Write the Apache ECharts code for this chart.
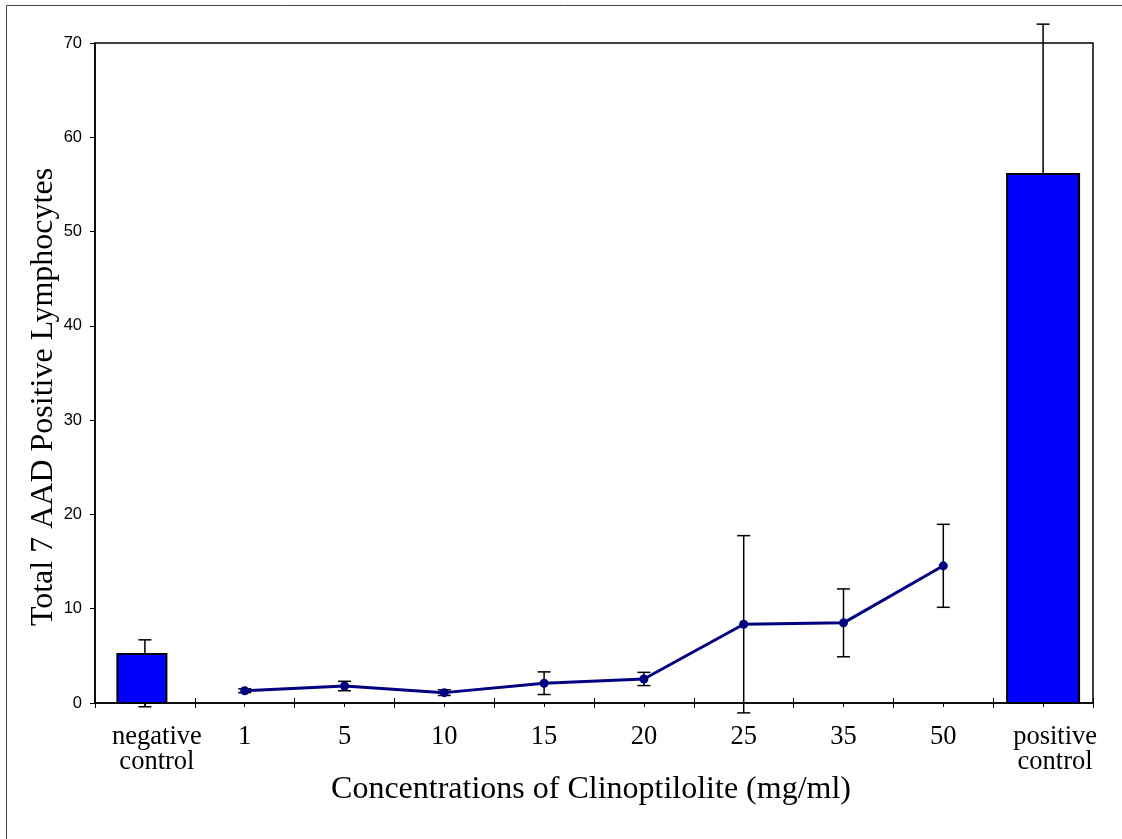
<!DOCTYPE html>
<html>
<head>
<meta charset="utf-8">
<script src="https://cdn.jsdelivr.net/npm/echarts@6/dist/echarts.min.js"></script>
<style>
  html, body { margin: 0; padding: 0; background: #fff; }
  #chart { width: 1122px; height: 839px; }
</style>
</head>
<body>
<div id="chart"></div>
<script>
// categories along the x axis
const categories = ['negative\ncontrol', '1', '5', '10', '15', '20', '25', '35', '50', 'positive\ncontrol'];

// control bars (index in categories, value, error low, error high)
const barIndex = [0, 9];
const barValues = [5.2, 56.1];
const barErrLow = [-0.4, 40.2];
const barErrHigh = [6.7, 72.0];

// clinoptilolite concentrations (line), '-' where no point
const lineValues = ['-', 1.3, 1.8, 1.1, 2.1, 2.55, 8.35, 8.5, 14.55, '-'];
const lineErr = [0, 0.2, 0.5, 0.3, 1.2, 0.7, 9.4, 3.6, 4.4, 0];

const yTicks = [0, 10, 20, 30, 40, 50, 60, 70];

const errData = [];
barIndex.forEach((c, i) => errData.push([c, barErrLow[i], barErrHigh[i]]));
lineValues.forEach((v, i) => {
  if (v !== '-') errData.push([i, v - lineErr[i], v + lineErr[i]]);
});

const barWidths = [49, 72];
const barData = barIndex.map((c, i) => [c, barValues[i], barWidths[i]]);

// the two control labels sit a little right of their tick in the original
const xLabels = categories.map(c => c.indexOf('\n') >= 0
  ? { value: c, textStyle: { padding: [0, 0, 0, 24] } }
  : c);

const chart = echarts.init(document.getElementById('chart'));
chart.setOption({
  animation: false,
  graphic: [{
    type: 'rect',
    shape: { x: 6.5, y: 5.5, width: 1130, height: 850 },
    style: { fill: 'none', stroke: '#444', lineWidth: 1 },
    silent: true
  }, {
    // y axis title, sits a bit below the plot's middle in the original
    type: 'text',
    x: 44, y: 397,
    rotation: Math.PI / 2,
    style: {
      text: 'Total 7 AAD Positive Lymphocytes',
      fill: '#000', font: '32px "Liberation Serif"',
      textAlign: 'center', textVerticalAlign: 'middle'
    },
    silent: true
  }, {
    type: 'text',
    x: 591, y: 790,
    style: {
      text: 'Concentrations of Clinoptilolite (mg/ml)',
      fill: '#000', font: '32px "Liberation Serif"',
      textAlign: 'center', textVerticalAlign: 'middle'
    },
    silent: true
  }],
  grid: {
    left: 95, right: 29, top: 43, bottom: 136,
    show: true, borderColor: '#000', borderWidth: 1.5, backgroundColor: 'transparent'
  },
  xAxis: [{
    type: 'category', data: xLabels, position: 'bottom',
    axisLine: { lineStyle: { color: '#000', width: 1.5 } },
    axisTick: { show: true, length: 5, lineStyle: { color: '#000', width: 1 } },
    axisLabel: {
      color: '#000', fontFamily: 'Liberation Serif', fontSize: 26.5,
      lineHeight: 25, margin: 22, interval: 0
    }
  }, {
    type: 'category', data: categories, position: 'bottom',
    axisLine: { show: false },
    axisTick: { show: true, inside: true, length: 5, lineStyle: { color: '#000', width: 1 } },
    axisLabel: { show: false }
  }, {
    type: 'category', data: categories, position: 'bottom',
    axisLine: { show: false },
    axisTick: { show: true, alignWithLabel: true, length: 4, lineStyle: { color: '#000', width: 1 } },
    axisLabel: { show: false }
  }],
  yAxis: {
    type: 'value', min: yTicks[0], max: yTicks[yTicks.length - 1], interval: 10,
    splitLine: { show: false },
    axisLine: { show: true, lineStyle: { color: '#000', width: 1.5 } },
    axisTick: { show: true, length: 5, lineStyle: { color: '#000' } },
    axisLabel: { color: '#000', fontFamily: 'Liberation Sans', fontSize: 16.5, margin: 13 }
  },
  series: [{
    type: 'custom',
    name: 'error',
    clip: false,
    z: 1,
    data: errData,
    renderItem: function (params, api) {
      const x = api.coord([api.value(0), 0])[0];
      const lo = api.coord([api.value(0), api.value(1)])[1];
      const hi = api.coord([api.value(0), api.value(2)])[1];
      const hw = 6.5;
      const st = { stroke: '#000', lineWidth: 1.5 };
      return {
        type: 'group',
        children: [
          { type: 'line', shape: { x1: x, y1: lo, x2: x, y2: hi }, style: st },
          { type: 'line', shape: { x1: x - hw, y1: lo, x2: x + hw, y2: lo }, style: st },
          { type: 'line', shape: { x1: x - hw, y1: hi, x2: x + hw, y2: hi }, style: st }
        ]
      };
    }
  }, {
    type: 'custom',
    name: 'controls',
    z: 3,
    data: barData,
    renderItem: function (params, api) {
      const top = api.coord([api.value(0), api.value(1)]);
      const base = api.coord([api.value(0), 0]);
      const w = api.value(2);
      return {
        type: 'rect',
        shape: { x: top[0] - w / 2 - (api.value(0) === 0 ? 3 : 0), y: top[1], width: w, height: base[1] - top[1] },
        style: { fill: '#0000FF', stroke: '#000', lineWidth: 2 }
      };
    }
  }, {
    type: 'line',
    name: 'clinoptilolite',
    z: 4,
    data: lineValues,
    symbol: 'circle',
    symbolSize: 9,
    lineStyle: { color: '#000080', width: 3 },
    itemStyle: { color: '#000080' }
  }]
});
</script>
</body>
</html>
